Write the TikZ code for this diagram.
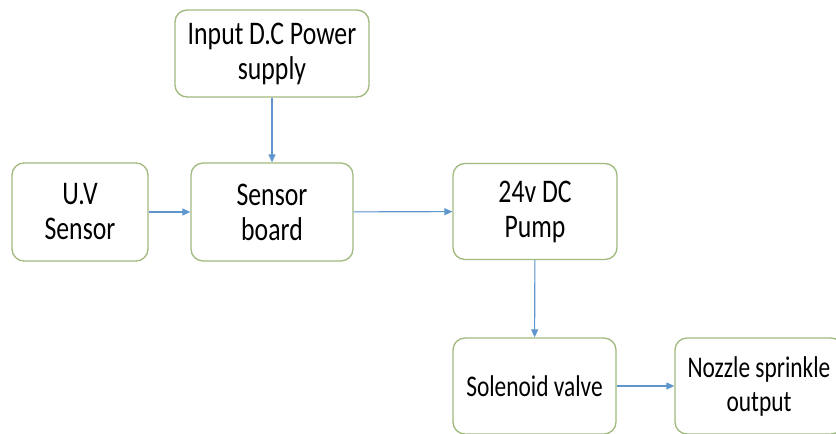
\documentclass[tikz,border=0pt]{standalone}
\usepackage{fontspec}
\setmainfont{Carlito}[FakeStretch=0.78]
\usepackage{tikz}
\usetikzlibrary{arrows.meta}
\definecolor{boxline}{RGB}{160, 185, 125}
\definecolor{flow}{RGB}{95, 150, 205}

\begin{document}
\begin{tikzpicture}[x=1pt, y=-1pt, >={Triangle[length=8pt, width=7pt]},
  block/.style={draw=boxline, line width=1.3pt, rounded corners=12pt, fill=white,
    align=center, inner sep=0pt, font=\fontsize{33}{35}\selectfont},
  smallblock/.style={block, font=\fontsize{30}{34}\selectfont},
  link/.style={->, draw=flow, fill=flow, line width=1.1pt}]
  \useasboundingbox (0,0) rectangle (836,434);

  % Blocks
  \node[block, minimum width=194pt, minimum height=87pt] (power) at (272, 53.5) {Input D.C Power\\supply};
  \node[block, minimum width=136pt, minimum height=98pt] (uv) at (80, 212) {U.V\\Sensor};
  \node[block, minimum width=162pt, minimum height=98pt] (board) at (272, 212) {Sensor\\board};
  \node[block, minimum width=164pt, minimum height=96pt] (pump) at (535, 211.5) {24v DC\\Pump};
  \node[smallblock, minimum width=163pt, minimum height=96pt] (valve) at (534.5, 386) {Solenoid valve};
  \node[smallblock, minimum width=168pt, minimum height=96pt] (nozzle) at (759, 386) {Nozzle sprinkle\\output};

  % Connections
  \draw[link] (power) -- (board);
  \draw[link] (uv) -- (board);
  \draw[link] (board) -- (pump);
  \draw[link] (pump) -- (valve);
  \draw[link] (valve) -- (nozzle);
\end{tikzpicture}
\end{document}
